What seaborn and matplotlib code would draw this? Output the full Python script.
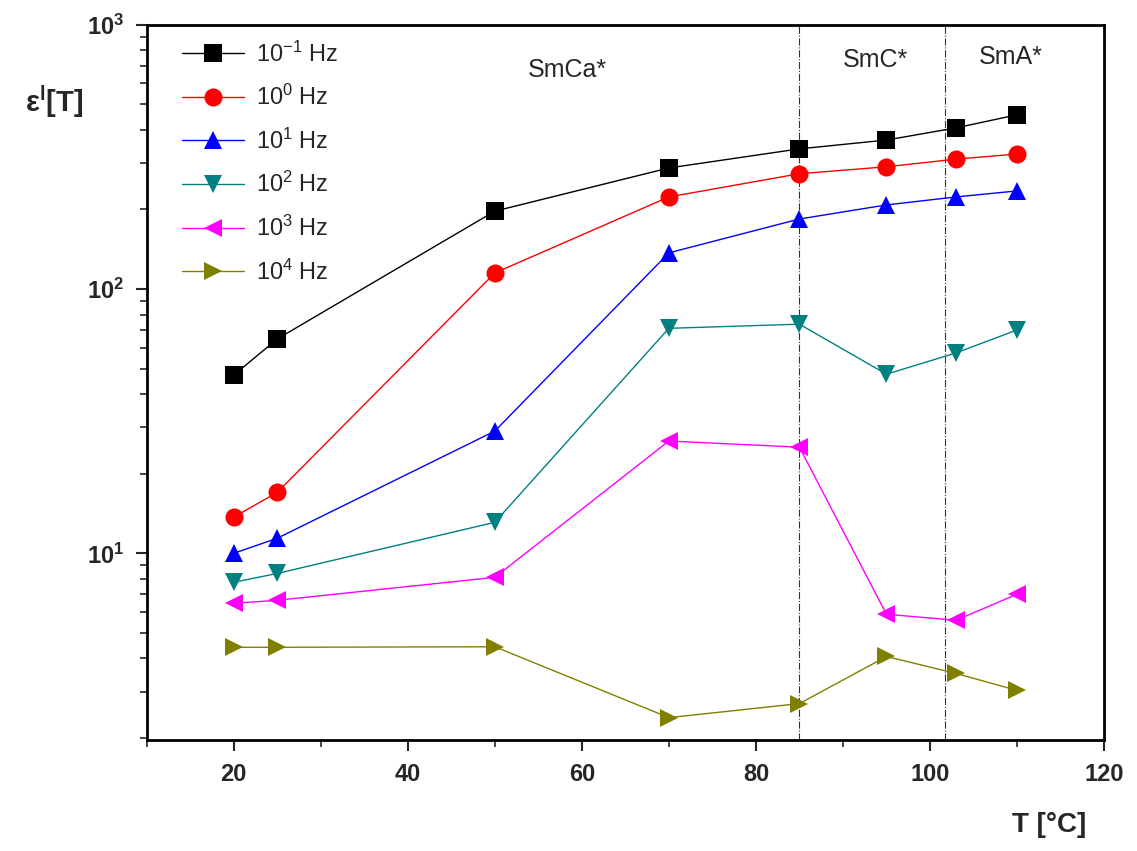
import numpy as np
import pandas as pd
import matplotlib
matplotlib.use("Agg")
import matplotlib.pyplot as plt
import seaborn as sns
from matplotlib.ticker import FixedLocator, LogLocator, NullFormatter

temps = [20, 25, 50, 70, 85, 95, 103, 110]
freq_labels = [r"$\mathregular{10^{-1}}$ Hz", r"$\mathregular{10^{0}}$ Hz", r"$\mathregular{10^{1}}$ Hz",
               r"$\mathregular{10^{2}}$ Hz", r"$\mathregular{10^{3}}$ Hz", r"$\mathregular{10^{4}}$ Hz"]
eps_f01 = [47.2, 64.7, 197, 287, 339, 366, 407, 456]
eps_f1 = [13.7, 17.0, 115, 223, 273, 290, 310, 324]
eps_f10 = [10.0, 11.4, 29.0, 137, 184, 208, 223, 235]
eps_f100 = [7.77, 8.39, 13.1, 71, 73.6, 47.6, 57.3, 70]
eps_f1000 = [6.47, 6.64, 8.11, 26.6, 25.2, 5.88, 5.58, 7.0]
eps_f10000 = [4.41, 4.41, 4.43, 2.39, 2.70, 4.07, 3.51, 3.03]
phase_bounds = [85, 101.7]
phase_names = ["SmCa*", "SmC*", "SmA*"]
x_ticks = [20, 40, 60, 80, 100, 120]

series = [eps_f01, eps_f1, eps_f10, eps_f100, eps_f1000, eps_f10000]
rows = []
for lab, vals in zip(freq_labels, series):
    for t, v in zip(temps, vals):
        rows.append({"T": t, "eps": v, "f": lab})
df = pd.DataFrame(rows)

sns.set_theme(style="white")
plt.rcParams['font.family'] = ['Liberation Sans', 'DejaVu Sans']
plt.rcParams['mathtext.fontset'] = 'custom'
plt.rcParams['mathtext.rm'] = 'Liberation Sans'
plt.rcParams['mathtext.bf'] = 'Liberation Sans:bold'

colors = ["#000000", "#FF0000", "#0000FF", "#008080", "#FF00FF", "#808000"]
markers = ["s", "o", "^", "v", "<", ">"]
palette = dict(zip(freq_labels, colors))
mdict = dict(zip(freq_labels, markers))

fig = plt.figure(figsize=(11.37, 8.51), dpi=100)
ax = fig.add_axes([0.129, 0.130, 0.842, 0.841])

sns.lineplot(data=df, x="T", y="eps", hue="f", style="f", palette=palette,
             markers=mdict, dashes=False, markersize=13, linewidth=1.0,
             markeredgewidth=0, ax=ax, legend=True)

ax.set_yscale("log")
ax.set_xlim(10, 120)
ax.set_ylim(1.96, 1000)

for b in phase_bounds:
    ax.axvline(b, color="#333333", lw=0.8, ls="-.", zorder=0)

ax.text(58.3, 675, phase_names[0], fontsize=18, ha="center", va="center")
ax.text(93.7, 736, phase_names[1], fontsize=18, ha="center", va="center")
ax.text(109.3, 756, phase_names[2], fontsize=18, ha="center", va="center")

ax.xaxis.set_major_locator(FixedLocator(x_ticks))
ax.xaxis.set_minor_locator(FixedLocator([10, 30, 50, 70, 90, 110]))
ax.yaxis.set_major_locator(LogLocator(base=10, numticks=10))
ax.yaxis.set_minor_locator(LogLocator(base=10, subs=np.arange(2, 10), numticks=20))
ax.yaxis.set_minor_formatter(NullFormatter())
ax.yaxis.set_major_formatter(matplotlib.ticker.FuncFormatter(
    lambda v, p: r"$\mathbf{10^{%d}}$" % int(round(np.log10(v)))))
ax.tick_params(axis="both", which="major", direction="out", length=8, width=1.5,
               labelsize=17, bottom=True, left=True, top=False, right=False, pad=8)
ax.tick_params(axis="both", which="minor", direction="out", length=5, width=1.2,
               bottom=True, left=True, top=False, right=False)
for lab in ax.get_xticklabels() + ax.get_yticklabels():
    lab.set_fontweight("bold")

for s in ax.spines.values():
    s.set_visible(True)
    s.set_color("black")
    s.set_linewidth(2)

ax.set_xlabel("")
ax.set_ylabel("")
fig.text(0.022, 0.88, r"$\mathregular{ε^{l}}$[T]", fontsize=21, fontweight="bold", ha="left", va="center")
fig.text(0.955, 0.03, "T [°C]", fontsize=20, fontweight="bold", ha="right", va="center")

leg = ax.legend(loc="upper left", frameon=False, fontsize=17, handlelength=2.6,
                handletextpad=0.5, labelspacing=0.78, borderaxespad=0.3,
                bbox_to_anchor=(0.02, 1.0))

fig.savefig("out.png", dpi=100)
